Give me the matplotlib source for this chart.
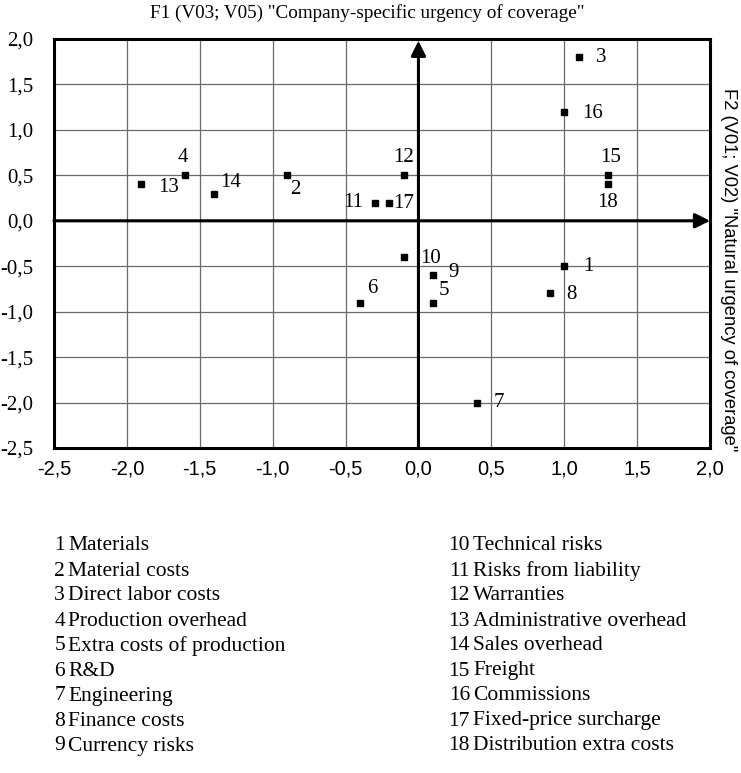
import matplotlib
matplotlib.use("Agg")
import matplotlib.pyplot as plt
from matplotlib.ticker import FixedLocator

# Positions of the 18 cost items in the factor space
item_ids = [str(i) for i in range(1, 19)]
f1_values = [1.0, -0.9, 1.1, -1.6, 0.1, -0.4, 0.4, 0.9, 0.1,
             -0.1, -0.3, -0.1, -1.9, -1.4, 1.3, 1.0, -0.2, 1.3]
f2_values = [-0.5, 0.5, 1.8, 0.5, -0.9, -0.9, -2.0, -0.8, -0.6,
             -0.4, 0.2, 0.5, 0.4, 0.3, 0.5, 1.2, 0.2, 0.4]
item_names = ["Materials", "Material costs", "Direct labor costs",
              "Production overhead", "Extra costs of production", "R&D",
              "Engineering", "Finance costs", "Currency risks",
              "Technical risks", "Risks from liability", "Warranties",
              "Administrative overhead", "Sales overhead", "Freight",
              "Commissions", "Fixed-price surcharge", "Distribution extra costs"]

x_ticks = [-2.5, -2.0, -1.5, -1.0, -0.5, 0.0, 0.5, 1.0, 1.5, 2.0]
y_ticks = [-2.5, -2.0, -1.5, -1.0, -0.5, 0.0, 0.5, 1.0, 1.5, 2.0]

# label offsets in points (dx, dy) and alignment per item
label_offsets = {
    "1": (14, 0, "left"), "2": (2, -10, "left"), "3": (12, 0, "left"),
    "4": (-2, 13, "center"), "5": (4, 9, "left"), "6": (5, 10, "left"),
    "7": (12, 0, "left"), "8": (12, -1, "left"), "9": (11, 2, "left"),
    "10": (12, -1, "left"), "11": (-8, 0, "right"), "12": (0, 13, "center"),
    "13": (12, -2, "left"), "14": (4, 8, "left"), "15": (2, 13, "center"),
    "16": (13, -1, "left"), "17": (3, -1, "left"), "18": (0, -13, "center"),
}

SERIF = "Liberation Serif"
SANS = "Liberation Sans"

W, H = 741, 773
fig = plt.figure(figsize=(W / 100, H / 100), dpi=100)
ax = fig.add_axes([54 / W, 1 - 448 / H, 656 / W, 409 / H])

ax.set_xlim(-2.5, 2.0)
ax.set_ylim(-2.5, 2.0)
ax.xaxis.set_major_locator(FixedLocator(x_ticks))
ax.yaxis.set_major_locator(FixedLocator(y_ticks))
ax.set_xticklabels([f"{v:.1f}".replace(".", ",") for v in x_ticks],
                   fontfamily=SANS, fontsize=14.5)
ax.set_yticklabels([f"{v:.1f}".replace(".", ",") for v in y_ticks],
                   fontfamily=SERIF, fontsize=15)
ax.tick_params(length=0)
ax.tick_params(axis="x", pad=8)
ax.tick_params(axis="y", pad=15)
ax.grid(True, color="#6a6a6a", lw=0.9)
ax.set_axisbelow(True)
for s in ax.spines.values():
    s.set_linewidth(2.2)
    s.set_color("black")

# axes through the origin with arrowheads
ax.annotate("", xy=(2.0, 0), xytext=(-2.5, 0),
            arrowprops=dict(arrowstyle="-|>", lw=2.2, color="black",
                            mutation_scale=22, shrinkA=0, shrinkB=0),
            annotation_clip=False, zorder=3)
ax.annotate("", xy=(0, 1.98), xytext=(0, -2.5),
            arrowprops=dict(arrowstyle="-|>", lw=2.2, color="black",
                            mutation_scale=22, shrinkA=0, shrinkB=0),
            annotation_clip=False, zorder=3)

ax.plot(f1_values, f2_values, linestyle="none", marker="s",
        markersize=5, color="black", zorder=4)

for lab, x, y in zip(item_ids, f1_values, f2_values):
    dx, dy, ha = label_offsets[lab]
    ax.annotate(lab, (x, y), xytext=(dx, dy), textcoords="offset points",
                ha=ha, va="center", fontfamily=SERIF, fontsize=15, zorder=5)

fig.text(367 / W, 1 - 13 / H,
         'F1 (V03; V05) "Company-specific urgency of coverage"',
         ha="center", va="center", fontfamily=SERIF, fontsize=13.8)
fig.text(728 / W, 1 - 270 / H,
         'F2 (V01; V02) "Natural urgency of coverage"',
         ha="center", va="center", rotation=-90, fontfamily=SANS, fontsize=13.2)

# key to item numbers in two columns
row_y0, row_step = 546, 25
for i, (lab, name) in enumerate(zip(item_ids, item_names)):
    col, row = divmod(i, 9)
    x_num = 65 if col == 0 else 470
    y = 1 - (row_y0 + row * row_step) / H
    fig.text(x_num / W, y, lab, ha="right", va="center",
             fontfamily=SERIF, fontsize=15.5)
    fig.text((x_num + 3) / W, y, name, ha="left", va="center",
             fontfamily=SERIF, fontsize=15.5)

fig.savefig("out.png", dpi=100)
